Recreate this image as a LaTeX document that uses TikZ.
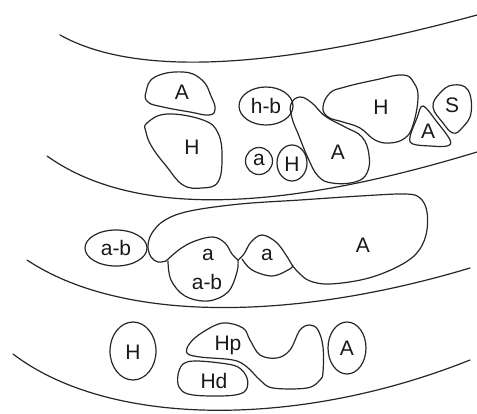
\documentclass[tikz,border=0pt]{standalone}
\usepackage{fontspec}
\setmainfont{Liberation Sans}
\tikzset{
  outline/.style={draw=black!85, line width=1.2pt, line join=round, line cap=round},
  lbl/.style={inner sep=0pt, font=\fontsize{21}{24}\selectfont, text=black!90}
}
\begin{document}
\begin{tikzpicture}[x=1pt,y=-1pt]
\useasboundingbox (0,0) rectangle (477,413);
% bands
\draw[outline] (60,35) .. controls (130,74) and (260,74) .. (477,15);
\draw[outline] (47,156) .. controls (130,215) and (270,215) .. (477,152);
\draw[outline] (27,260) .. controls (120,322) and (290,322) .. (470,268);
\draw[outline] (13,354) .. controls (110,428) and (300,428) .. (470,360);

% top row
\draw[outline] plot[smooth cycle, tension=0.75] coordinates {(146,92) (155,77) (183,72) (202,80) (211,96) (215,109) (209,115) (190,112) (163,107) (148,102)};
\draw[outline] plot[smooth cycle, tension=0.7] coordinates {(147,123) (167,114) (203,120) (218,133) (222,157) (218,182) (202,188) (183,185) (167,167) (152,147) (146,132)};
\draw[outline] (266,106) ellipse [x radius=27, y radius=19];
\draw[outline] (259,161) circle [radius=13.5];
\draw[outline] (292,163) ellipse [x radius=15, y radius=18];
\draw[outline] plot[smooth cycle, tension=0.7] coordinates {(291,104) (300,97) (312,103) (325,116) (345,127) (362,137) (369,155) (367,173) (355,182) (332,183) (318,176) (308,158) (299,136) (292,118)};
\draw[outline] plot[smooth cycle, tension=0.7] coordinates {(323,107) (330,93) (345,87) (375,80) (403,75) (414,83) (418,98) (413,125) (405,138) (390,143) (375,140) (360,128) (343,122) (328,117)};
\draw[outline] plot[smooth cycle, tension=0.6] coordinates {(423,106) (437,122) (450,140) (447,146) (430,146) (413,144) (410,137) (417,118)};
\draw[outline] plot[smooth cycle, tension=0.7] coordinates {(433,107) (440,93) (453,85) (468,90) (471,113) (462,128) (453,133) (443,123)};

\node[lbl] (tA1) at (182,92) {A};
\node[lbl] (tH1) at (192,147) {H};
\node[lbl] (thb) at (266,106) {h-b};
\node[lbl] (ta1) at (259,160) {a};
\node[lbl] (tH2) at (292,164) {H};
\node[lbl] (tA2) at (338,152) {A};
\node[lbl] (tH3) at (381,107) {H};
\node[lbl] (tA3) at (428,131) {A};
\node[lbl] (tS) at (452,105) {S};

% middle row
\draw[outline] (116,248) ellipse [x radius=31, y radius=18];
\draw[outline] plot[smooth, tension=0.6] coordinates {(166,261) (158,262) (151,257) (148,246) (152,233) (165,220) (190,211) (240,204) (300,200) (360,196) (405,194) (420,198) (427,212) (426,235) (416,254) (395,268) (365,279) (330,284) (310,281) (299,273) (292,265)};
\draw[outline] plot[smooth, tension=0.6] coordinates {(166,261) (180,249) (195,241) (213,237) (225,243) (232,254) (238,260)};
\draw[outline] plot[smooth, tension=0.6] coordinates {(238,260) (244,254) (251,242) (262,235) (276,242) (286,255) (292,265)};
\draw[outline] plot[smooth, tension=0.6] coordinates {(168,261) (171,280) (185,296) (208,301) (228,292) (237,272) (238,260)};
\draw[outline] plot[smooth, tension=0.6] coordinates {(242,259) (252,270) (272,276) (288,270) (293,266)};

\node[lbl] (tab1) at (116,248) {a-b};
\node[lbl] (ta2) at (208,255) {a};
\node[lbl] (tab2) at (207,282) {a-b};
\node[lbl] (ta3) at (267,255) {a};
\node[lbl] (tA4) at (363,245) {A};

% bottom row
\draw[outline] (133,351) ellipse [x radius=23, y radius=29];
\draw[outline] (347,348) ellipse [x radius=19, y radius=26];
\draw[outline] plot[smooth cycle, tension=0.6] coordinates {(178,375) (183,364) (195,361) (220,363) (238,367) (247,378) (246,390) (235,395) (210,396) (188,394) (179,387)};
\draw[outline] plot[smooth cycle, tension=0.6] coordinates {(187,353) (190,343) (203,332) (223,323) (243,328) (250,340) (260,355) (277,358) (290,350) (300,330) (310,325) (318,330) (323,347) (323,372) (320,380) (307,388) (273,388) (260,380) (247,367) (233,360) (200,357)};

\node[lbl] (tH4) at (133,352) {H};
\node[lbl] (tHp) at (228,345) {Hp};
\node[lbl] (tHd) at (214,381) {Hd};
\node[lbl] (tA5) at (347,348) {A};
\end{tikzpicture}
\end{document}
